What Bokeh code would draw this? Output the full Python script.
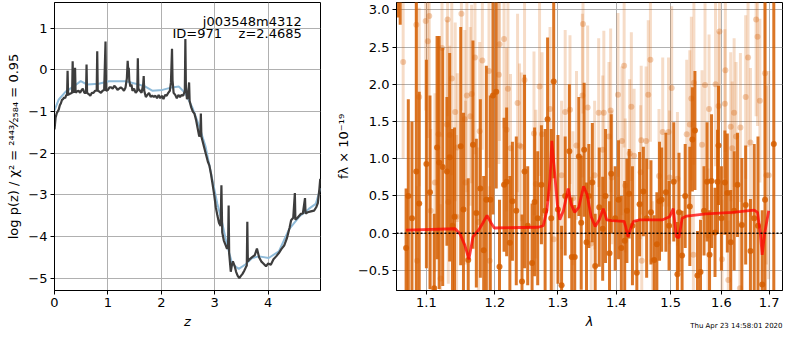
from bokeh.plotting import figure
from bokeh.layouts import row
from bokeh.models import Range1d, FixedTicker, CustomJSTickFormatter, Label, Span, ColumnDataSource, Title
from bokeh.embed import file_html
from bokeh.resources import INLINE

# ---------------- left panel: log p(z) ----------------
pz_z = [0.00, 0.02, 0.04, 0.06, 0.08, 0.10, 0.12, 0.14, 0.16, 0.18, 0.20, 0.22, 0.235, 0.245, 0.255,
        0.28, 0.31, 0.33, 0.34, 0.35, 0.37, 0.385, 0.395, 0.42, 0.45, 0.48, 0.50, 0.53, 0.56, 0.59,
        0.60, 0.61, 0.64, 0.67, 0.70, 0.73, 0.76, 0.79, 0.80, 0.81, 0.84, 0.87, 0.90, 0.93, 0.955,
        0.965, 1.00, 1.03, 1.06, 1.09, 1.12, 1.15, 1.18, 1.21, 1.24, 1.27, 1.30, 1.33, 1.355, 1.37,
        1.38, 1.39, 1.40, 1.42, 1.44, 1.46, 1.49, 1.52, 1.55, 1.56, 1.57, 1.60, 1.63, 1.66, 1.67,
        1.68, 1.71, 1.74, 1.77, 1.80, 1.83, 1.86, 1.89, 1.92, 1.95, 1.98, 2.01, 2.04, 2.07, 2.10,
        2.13, 2.16, 2.18, 2.20, 2.21, 2.23, 2.26, 2.29, 2.32, 2.35, 2.38, 2.41, 2.44, 2.45, 2.46,
        2.48, 2.50, 2.52, 2.53, 2.56, 2.59, 2.62, 2.65, 2.68, 2.71, 2.73, 2.74, 2.75, 2.78, 2.80,
        2.84, 2.87, 2.90, 2.93, 2.96, 2.99, 3.02, 3.05, 3.08, 3.11, 3.125, 3.14, 3.17, 3.20, 3.23,
        3.25, 3.26, 3.27, 3.29, 3.30, 3.32, 3.34, 3.37, 3.40, 3.43, 3.46, 3.49, 3.52, 3.55, 3.58,
        3.60, 3.61, 3.62, 3.65, 3.70, 3.75, 3.79, 3.83, 3.87, 3.91, 3.96, 4.00, 4.05, 4.10, 4.15,
        4.20, 4.25, 4.30, 4.35, 4.40, 4.43, 4.47, 4.50, 4.51, 4.55, 4.61, 4.65, 4.69, 4.70, 4.74,
        4.80, 4.86, 4.90, 4.93, 4.96, 4.975]
pz_logp = [-1.43, -1.15, -1.05, -1.00, -0.95, -0.85, -0.80, -0.72, -0.70, -0.66, -0.68, -0.60, -0.62, -0.02, -0.60,
           -0.58, -0.56, -0.55, 0.21, -0.50, -0.55, 0.05, -0.55, -0.52, -0.50, -0.55, -0.50, -0.45, -0.55, -0.55,
           0.13, -0.55, -0.58, -0.62, -0.55, -0.55, -0.50, -0.50, 0.45, -0.50, -0.52, -0.55, -0.50, -0.48, 0.68,
           -0.50, -0.48, -0.42, -0.42, -0.45, -0.38, -0.42, -0.48, -0.45, -0.42, -0.45, -0.50, -0.42, -0.20, 0.22,
           0.00, 0.05, -0.25, -0.40, -0.35, -0.50, -0.45, -0.55, -0.50, 0.28, -0.45, -0.50, -0.55, -0.35, -0.15,
           -0.50, -0.65, -0.60, -0.55, -0.65, -0.62, -0.65, -0.62, -0.68, -0.60, -0.68, -0.62, -0.70, -0.60, -0.62,
           -0.55, -0.50, -0.30, 0.51, -0.25, -0.55, -0.60, -0.68, -0.60, -0.65, -0.60, -0.62, -0.50, 0.74, -0.40,
           -0.70, -0.65, -0.30, -0.75, -0.90, -1.00, -1.05, -1.20, -1.40, -1.60, -1.55, -1.05, -1.60, -1.75, -1.85,
           -2.05, -2.20, -2.30, -2.50, -2.75, -3.00, -3.30, -3.50, -3.68, -3.75, -2.77, -3.90, -4.10, -4.20, -4.30,
           -4.20, -3.26, -4.40, -4.70, -4.85, -4.70, -4.60, -4.70, -4.85, -4.95, -5.00, -4.95, -4.90, -4.83, -4.75,
           -4.70, -3.65, -4.60, -4.55, -4.50, -4.45, -4.29, -4.50, -4.60, -4.65, -4.72, -4.65, -4.68, -4.55, -4.48,
           -4.40, -4.30, -4.22, -4.05, -3.80, -3.61, -3.55, -2.96, -3.60, -3.55, -3.46, -3.45, -3.08, -3.45, -3.42,
           -3.40, -3.38, -3.30, -3.20, -2.85, -2.62]

chi2_z = [0.00, 0.08, 0.21, 0.39, 0.49, 0.61, 0.83, 1.02, 1.33, 1.52, 1.70, 1.83, 2.02, 2.20, 2.33, 2.45,
          2.58, 2.70, 2.83, 2.95, 3.05, 3.14, 3.23, 3.33, 3.45, 3.58, 3.70, 3.83, 4.01, 4.20, 4.39, 4.58,
          4.76, 4.89, 4.98]
chi2_logp = [-0.97, -0.71, -0.52, -0.37, -0.27, -0.35, -0.33, -0.27, -0.27, -0.33, -0.40, -0.50, -0.48, -0.42,
             -0.40, -0.56, -0.90, -1.32, -1.85, -2.61, -3.22, -3.68, -4.21, -4.67, -4.78, -4.67, -4.52, -4.48,
             -4.52, -4.36, -3.83, -3.53, -3.34, -3.22, -2.84]

z_ticks = [0, 1, 2, 3, 4]
logp_ticks = [-5, -4, -3, -2, -1, 0, 1]

# ---------------- right panel: spectrum ----------------
dark_wave = [1.061, 1.064, 1.072, 1.075, 1.080, 1.086, 1.090, 1.100, 1.105, 1.111, 1.115, 1.118, 1.123, 1.129,
             1.133, 1.137, 1.140, 1.149, 1.153, 1.160, 1.167, 1.172, 1.178, 1.183, 1.187, 1.193, 1.197, 1.202,
             1.207, 1.214, 1.218, 1.223, 1.227, 1.233, 1.242, 1.246, 1.251, 1.258, 1.262, 1.267, 1.273, 1.279,
             1.283, 1.289, 1.293, 1.300, 1.306, 1.312, 1.319, 1.323, 1.328, 1.335, 1.339, 1.344, 1.348, 1.352,
             1.358, 1.363, 1.370, 1.376, 1.381, 1.388, 1.391, 1.398, 1.404, 1.409, 1.415, 1.419, 1.423, 1.429,
             1.437, 1.442, 1.449, 1.455, 1.463, 1.469, 1.474, 1.479, 1.483, 1.491, 1.497, 1.506, 1.513, 1.516,
             1.522, 1.528, 1.537, 1.542, 1.547, 1.552, 1.558, 1.565, 1.571, 1.576, 1.580, 1.587, 1.592, 1.594,
             1.600, 1.607, 1.612, 1.619, 1.626, 1.633, 1.642, 1.650, 1.660, 1.668, 1.676, 1.685, 1.691, 1.710]
dark_flux = [4.00, 4.30, -0.20, 0.50, 0.20, 0.83, 0.40, 0.93, 0.55, -0.74, 1.15, 0.95, 0.89, 0.83,
             1.02, 0.10, 0.22, 1.17, 0.32, -0.36, 1.19, 0.27, 0.60, -0.23, 0.45, 0.45, 1.85, 1.90,
             -0.45, 0.65, 0.69, -0.13, 0.43, 0.30, -0.65, 0.83, 0.10, -0.40, 0.42, 0.20, 0.65, 0.30,
             1.53, 0.20, 2.04, 0.32, -0.70, 0.50, 1.10, -0.32, -0.32, 1.03, 0.14, 1.12, -0.12, 0.50,
             0.68, -0.44, 0.35, 0.06, 0.50, -0.27, 0.80, 0.20, 0.45, -0.20, -0.10, 0.30, 0.53, 0.10,
             -0.53, 0.39, 0.56, 0.20, 0.28, -0.36, -0.15, 0.43, 0.45, 0.55, 0.10, 0.69, -0.55, 0.28,
             -0.30, 0.50, 0.36, 1.26, 1.38, -0.57, -0.52, 0.30, 0.69, -0.29, 0.70, 0.01, 0.69, 1.18,
             0.20, 0.68, 0.54, -0.12, 0.30, 0.65, 0.11, 0.38, -0.24, 0.20, 0.10, -0.69, 0.45, 1.20]
dark_err = [1.10, 1.50, 0.80, 1.30, 1.30, 2.30, 1.50, 1.40, 1.30, 1.00, 1.50, 1.70, 1.60, 1.00,
            1.40, 1.30, 1.20, 1.60, 1.30, 1.10, 1.40, 1.00, 1.20, 1.00, 1.80, 1.40, 1.60, 1.30,
            0.90, 0.90, 1.00, 0.90, 0.80, 1.00, 0.90, 1.30, 0.80, 0.80, 1.00, 0.90, 0.80, 1.10,
            1.10, 1.20, 1.30, 1.00, 0.80, 0.80, 0.90, 0.80, 0.70, 0.80, 0.90, 0.90, 0.80, 0.70,
            0.80, 0.70, 0.80, 0.70, 0.90, 0.70, 0.80, 0.70, 0.80, 0.70, 0.80, 0.70, 0.60, 0.80,
            0.70, 0.70, 0.60, 0.80, 0.70, 0.60, 0.70, 0.80, 0.70, 0.80, 0.60, 0.80, 0.70, 0.80,
            0.60, 0.70, 0.80, 0.70, 0.80, 0.60, 0.70, 0.60, 0.80, 0.60, 0.90, 0.60, 0.70, 0.80,
            0.70, 0.70, 0.80, 0.70, 0.80, 0.70, 0.90, 0.80, 0.70, 1.00, 1.20, 1.00, 3.00, 3.00]

light_wave = [1.068, 1.086, 1.087, 1.090, 1.099, 1.102, 1.104, 1.106, 1.112, 1.117, 1.120, 1.122, 1.129, 1.130,
              1.131, 1.133, 1.136, 1.141, 1.143, 1.144, 1.150, 1.155, 1.156, 1.158, 1.163, 1.165, 1.170, 1.175,
              1.177, 1.181, 1.191, 1.192, 1.206, 1.207, 1.214, 1.218, 1.220, 1.224, 1.235, 1.238, 1.241, 1.246,
              1.261, 1.264, 1.270, 1.274, 1.287, 1.293, 1.306, 1.312, 1.320, 1.325, 1.331, 1.341, 1.342, 1.350,
              1.356, 1.362, 1.369, 1.376, 1.378, 1.387, 1.390, 1.392, 1.403, 1.410, 1.414, 1.416, 1.424, 1.427,
              1.432, 1.444, 1.445, 1.446, 1.454, 1.458, 1.462, 1.466, 1.478, 1.485, 1.496, 1.498, 1.502, 1.513,
              1.531, 1.537, 1.540, 1.544, 1.545, 1.561, 1.567, 1.573, 1.575, 1.588, 1.594, 1.596, 1.601, 1.607,
              1.608, 1.614, 1.619, 1.622, 1.626, 1.630, 1.638, 1.639, 1.650, 1.655, 1.660, 1.672, 1.675, 1.680,
              1.691, 1.694, 1.699]
light_flux = [2.30, 2.80, -0.37, 1.83, 2.85, 2.58, 2.92, 0.30, 0.68, 1.33, -0.61, 2.49, 1.46, 2.87,
              0.42, 1.32, 2.08, 1.63, 0.22, 1.15, 2.95, 1.53, 0.68, 1.85, 1.57, 1.87, 2.36, 0.15,
              1.37, 2.32, 2.18, -0.37, 2.13, 2.54, 2.61, 1.39, 1.94, 1.14, 1.75, 1.18, 1.16, 2.06,
              1.34, 0.66, 1.97, 1.33, 1.67, -0.08, 0.78, 1.63, 1.66, 0.47, 1.18, 1.85, 2.81, 1.69,
              -0.14, 0.78, 1.62, 1.12, 1.62, 1.30, 1.65, 0.75, 1.86, 1.24, 2.25, 0.64, 1.07, 1.70,
              1.04, 0.82, 1.25, -0.37, 1.24, 1.86, 2.33, -0.37, 0.77, 1.36, 1.36, 0.75, 1.95, 0.73,
              1.33, 1.46, 1.81, -0.29, 2.02, 1.19, 1.99, -0.03, 1.67, 2.00, 1.71, 2.71, -0.35, 1.74,
              2.19, -0.63, 1.43, 1.14, 1.62, 1.30, -0.74, 1.42, 1.83, 2.36, 1.22, 2.87, 2.64, 1.78,
              2.15, 0.78, 0.78]
light_err = [1.30, 1.30, 1.00, 1.20, 1.20, 1.30, 1.40, 1.10, 1.20, 1.30, 1.00, 1.20, 1.40, 1.30,
             1.10, 1.20, 1.30, 1.20, 1.10, 1.00, 1.30, 1.20, 1.10, 1.30, 1.20, 1.20, 1.30, 1.00,
             1.20, 1.20, 1.30, 1.00, 1.20, 1.30, 1.20, 1.10, 1.20, 1.00, 1.20, 1.10, 1.00, 1.20,
             1.10, 1.00, 1.20, 1.10, 1.10, 1.00, 1.00, 1.10, 1.00, 0.90, 1.00, 1.10, 1.20, 1.10,
             0.90, 1.00, 1.00, 1.00, 1.10, 1.00, 1.10, 0.90, 1.10, 1.00, 1.10, 0.90, 1.00, 1.00,
             0.90, 0.90, 1.00, 0.80, 1.00, 1.00, 1.10, 0.80, 0.90, 1.00, 1.00, 0.90, 1.10, 0.90,
             1.00, 1.00, 1.10, 0.80, 1.10, 1.00, 1.10, 0.90, 1.00, 1.10, 1.00, 1.20, 0.80, 1.00,
             1.10, 0.80, 1.00, 0.90, 1.00, 1.00, 0.90, 1.00, 1.10, 1.20, 1.00, 1.30, 1.20, 1.10,
             1.30, 1.20, 1.40]

model_wave = [1.072, 1.141, 1.148, 1.155, 1.161, 1.167, 1.176, 1.182, 1.188, 1.194, 1.199, 1.268, 1.276,
              1.282, 1.287, 1.290, 1.294, 1.299, 1.303, 1.309, 1.317, 1.322, 1.328, 1.335, 1.343, 1.349,
              1.356, 1.363, 1.370, 1.377, 1.383, 1.392, 1.414, 1.417, 1.421, 1.425, 1.431, 1.442, 1.485,
              1.498, 1.505, 1.511, 1.516, 1.522, 1.531, 1.569, 1.623, 1.668, 1.675, 1.681, 1.685, 1.690,
              1.699]
model_flux = [0.04, 0.06, -0.01, -0.16, -0.35, -0.05, 0.05, 0.14, 0.24, 0.14, 0.07, 0.08, 0.10,
              0.31, 0.73, 1.24, 0.86, 0.39, 0.18, 0.30, 0.60, 0.39, 0.28, 0.35, 0.63, 0.52,
              0.22, 0.09, 0.18, 0.33, 0.18, 0.17, 0.16, 0.08, -0.05, 0.05, 0.16, 0.18, 0.18,
              0.22, 0.33, -0.05, -0.06, 0.20, 0.23, 0.26, 0.28, 0.31, 0.28, 0.00, -0.29, -0.01,
              0.30]

wave_ticks = [1.1, 1.2, 1.3, 1.4, 1.5, 1.6, 1.7]
flux_ticks = [-0.5, 0.0, 0.5, 1.0, 1.5, 2.0, 2.5, 3.0]

G141 = "#d55e00"
FONT = "DejaVu Sans"
NB = "\u00a0"


def style(p):
    p.outline_line_color = "black"
    p.outline_line_width = 1
    p.outline_line_alpha = 1
    p.background_fill_color = "white"
    p.border_fill_color = "white"
    for ax in p.axis:
        ax.axis_line_color = "black"
        ax.major_tick_in = 0
        ax.major_tick_out = 4
        ax.major_tick_line_color = "black"
        ax.minor_tick_line_color = None
        ax.major_label_text_font = FONT
        ax.major_label_text_font_size = "13px"
        ax.major_label_text_color = "black"
        ax.major_label_standoff = 3
        ax.axis_label_text_font = FONT
        ax.axis_label_text_font_size = "13px"
        ax.axis_label_text_color = "black"
        ax.axis_label_text_font_style = "normal"
        ax.axis_label_standoff = 4
    p.grid.grid_line_color = "#b0b0b0"
    p.grid.grid_line_width = 1


# ---- left figure ----
p1 = figure(width=332, height=334, output_backend="svg", toolbar_location=None,
            x_range=Range1d(0, 4.98), y_range=Range1d(-5.3, 1.62),
            min_border_left=54, min_border_right=12, min_border_top=2, min_border_bottom=44)
p1.line(chi2_z, chi2_logp, line_color="#8fbbd9", line_width=2)
p1.line(pz_z, pz_logp, line_color="#3d3d3d", line_width=2.2)
style(p1)
p1.xaxis.ticker = FixedTicker(ticks=z_ticks)
p1.yaxis.ticker = FixedTicker(ticks=logp_ticks)
p1.xaxis.formatter = CustomJSTickFormatter(code="return tick.toFixed(0)")
p1.yaxis.formatter = CustomJSTickFormatter(code="return tick.toFixed(0).replace('-', '\u2212')")
p1.xaxis.axis_label = "z"
p1.xaxis.axis_label_text_font_style = "italic"
p1.yaxis.axis_label = "log p(z) / \u03c7\u00b2 = \u00b2\u2074\u2074\u00b3\u2044\u2082\u2085\u2088\u2084 = 0.95"
p1.add_layout(Label(x=4.63, y=1.16, text="j003548m4312", text_align="right", text_baseline="middle",
                    text_font=FONT, text_font_size="13px", text_color="black"))
p1.add_layout(Label(x=4.63, y=0.87, text="ID=971" + NB * 4 + "z=2.4685", text_align="right",
                    text_baseline="middle", text_font=FONT, text_font_size="13px", text_color="black"))

# ---- right figure ----
p2 = figure(width=452, height=334, output_backend="svg", toolbar_location=None,
            x_axis_type="log", x_range=Range1d(1.059, 1.729), y_range=Range1d(-0.77, 3.10),
            min_border_left=60, min_border_right=2, min_border_top=2, min_border_bottom=44)

light_src = ColumnDataSource(dict(x=light_wave, y=light_flux,
                                  lo=[f - e for f, e in zip(light_flux, light_err)],
                                  hi=[f + e for f, e in zip(light_flux, light_err)]))
dark_src = ColumnDataSource(dict(x=dark_wave, y=dark_flux,
                                 lo=[f - e for f, e in zip(dark_flux, dark_err)],
                                 hi=[f + e for f, e in zip(dark_flux, dark_err)]))

p2.segment(x0="x", y0="lo", x1="x", y1="hi", source=light_src, line_color=G141, line_alpha=0.22, line_width=3)
p2.scatter("x", "y", source=light_src, size=6, fill_color=G141, fill_alpha=0.3, line_color=None)
p2.segment(x0="x", y0="lo", x1="x", y1="hi", source=dark_src, line_color=G141, line_alpha=0.85, line_width=3)
p2.scatter("x", "y", source=dark_src, size=6, fill_color=G141, fill_alpha=0.85, line_color=None)
p2.line(model_wave, model_flux, line_color="red", line_alpha=0.75, line_width=2.8)
p2.add_layout(Span(location=0, dimension="width", line_color="black", line_dash="2 2", line_width=1.5))

style(p2)
p2.xaxis.ticker = FixedTicker(ticks=wave_ticks)
p2.yaxis.ticker = FixedTicker(ticks=flux_ticks)
p2.xaxis.formatter = CustomJSTickFormatter(code="return tick.toFixed(1)")
p2.yaxis.formatter = CustomJSTickFormatter(code="return tick.toFixed(1).replace('-', '\u2212')")
p2.xaxis.axis_label = "\u03bb"
p2.xaxis.axis_label_text_font_style = "italic"
p2.yaxis.axis_label = "f\u03bb \u00d7 10\u207b\u00b9\u2079"
p2.add_layout(Title(text="Thu Apr 23 14:58:01 2020", align="right", vertical_align="top", text_font=FONT,
                    text_font_size="7px", text_font_style="normal", text_color="black",
                    standoff=-20, offset=0), "below")

layout = row(p1, p2)
open("out.html", "w").write(file_html(layout, INLINE))
